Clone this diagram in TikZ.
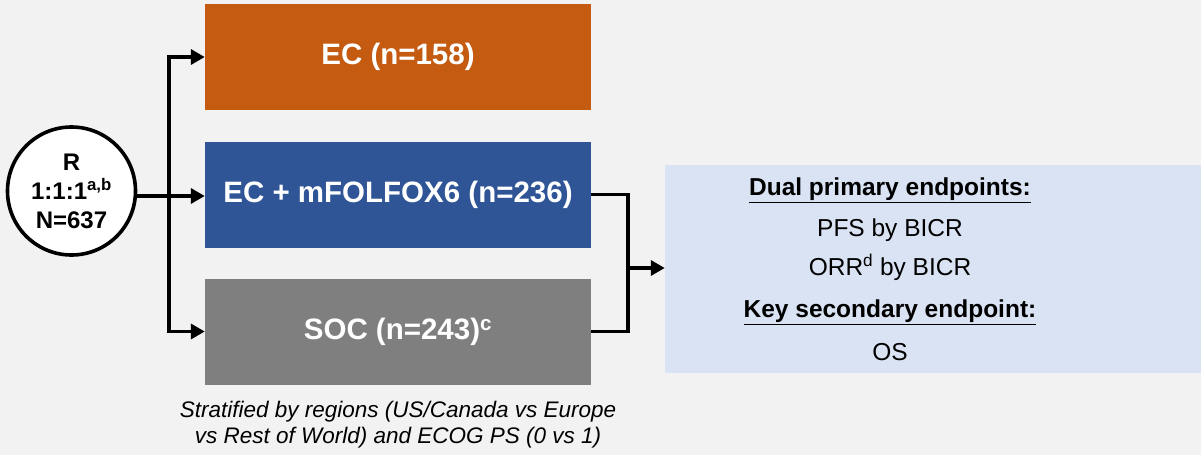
\documentclass[tikz,border=0pt]{standalone}
\usepackage{fontspec}
\setmainfont{Liberation Sans}
\usetikzlibrary{arrows.meta,calc}
\definecolor{bgc}{HTML}{F2F2F2}
\definecolor{orng}{HTML}{C55A11}
\definecolor{blu}{HTML}{2F5597}
\definecolor{gry}{HTML}{7F7F7F}
\definecolor{lblu}{HTML}{DAE3F3}
\tikzset{
  armbox/.style={rectangle, minimum width=386pt, minimum height=106pt, inner sep=0pt, text=white, font=\bfseries\fontsize{29.5}{34}\selectfont},
  arr/.style={line width=3.6pt, -{Triangle[length=14pt,width=15pt]}},
  conn/.style={line width=3.6pt},
  eptext/.style={font=\fontsize{24.5}{28}\selectfont},
  epbold/.style={font=\bfseries\fontsize{24.5}{28}\selectfont}
}
\newcommand{\ulin}[1]{\setlength{\fboxsep}{0pt}\underline{#1}}
\begin{document}
\begin{tikzpicture}[x=1pt,y=-1pt]
\fill[bgc] (0,0) rectangle (1201,455);
\useasboundingbox (0,0) rectangle (1201,455);
\node[armbox, fill=orng] (ec) at (398,57) {EC (n=158)};
\node[armbox, fill=blu] (ecm) at (398,194.5) {EC + mFOLFOX6 (n=236)};
\node[armbox, fill=gry] (soc) at (398,331.5) {SOC (n=243)\textsuperscript{c}};
\node[circle, draw, line width=3.6pt, minimum size=128pt, inner sep=0pt, fill=white, align=center,
      font=\bfseries\fontsize{24}{29}\selectfont] (r) at (71.5,191) {R\\1:1:1\textsuperscript{a,b}\\N=637};
\node[rectangle, fill=lblu, minimum width=536pt, minimum height=208pt, inner sep=0pt] (ep) at (933,269) {};
\node[epbold] (eptxt) at (890,190) {\underline{Dual primary endpoints:}};
\node[eptext] (pfs) at (890,230) {PFS by BICR};
\node[eptext] (orr) at (890,267) {ORR\textsuperscript{d} by BICR};
\node[epbold] (key) at (890,312) {\underline{Key secondary endpoint:}};
\node[eptext] (os) at (890,352) {OS};
\node[align=center, font=\itshape\fontsize{22.5}{26}\selectfont] (strat) at (398,425) {Stratified by regions (US/Canada vs Europe\\vs Rest of World) and ECOG PS (0 vs 1)};
\coordinate (split) at (169,196);
\coordinate (merge) at (628,268);
\draw[arr] (r.east |- split) -- (split -| ecm.west);
\draw[arr] (split) |- (ec.west);
\draw[arr] (split) |- (soc.west);
\draw[conn] (ecm.east) -| (merge) |- (soc.east);
\draw[arr] (merge) -- (merge -| ep.west);
\end{tikzpicture}
\end{document}
